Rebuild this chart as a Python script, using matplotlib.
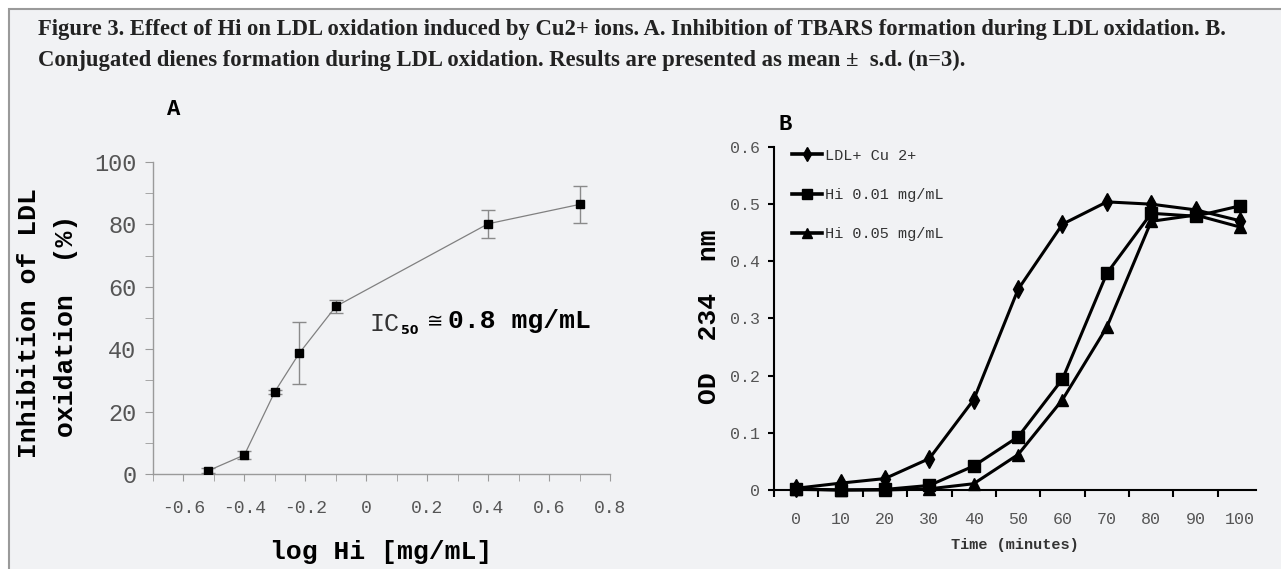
import matplotlib
matplotlib.use("Agg")
import matplotlib.pyplot as plt
import matplotlib.ticker as mticker
from matplotlib.lines import Line2D
from matplotlib.patches import Rectangle

# Figure settings
FIG_SIZE = (12.81, 5.69)
FIG_DPI = 100
BG = "#f1f2f4"
MONO = "Liberation Mono"
SERIF = "Liberation Serif"

# Panel A: inhibition of TBARS formation
log_hi = [-0.52, -0.40, -0.30, -0.22, -0.10, 0.40, 0.70]
inhibition = [1.0, 6.1, 26.4, 38.7, 53.7, 80.2, 86.4]
inhibition_sd = [0.8, 1.2, 0.6, 10.0, 2.0, 4.4, 6.0]
a_xticks = [-0.6, -0.4, -0.2, 0, 0.2, 0.4, 0.6, 0.8]
a_xticklabels = ["-0.6", "-0.4", "-0.2", "0", "0.2", "0.4", "0.6", "0.8"]

# Panel B: conjugated dienes formation
time_min = [0, 10, 20, 30, 40, 50, 60, 70, 80, 90, 100]
od_ldl_cu = [0.003, 0.012, 0.020, 0.055, 0.158, 0.351, 0.465, 0.504, 0.500, 0.490, 0.471]
od_hi_001 = [0.002, 0.000, 0.001, 0.008, 0.042, 0.093, 0.194, 0.379, 0.484, 0.479, 0.497]
od_hi_005 = [0.001, 0.000, 0.000, 0.002, 0.011, 0.062, 0.158, 0.285, 0.470, 0.481, 0.460]
b_labels = ["LDL+ Cu 2+", "Hi 0.01 mg/mL", "Hi 0.05 mg/mL"]
b_markers = ["d", "s", "^"]

title_lines = [
    "Figure 3. Effect of Hi on LDL oxidation induced by Cu2+ ions. A. Inhibition of TBARS "
    "formation during LDL oxidation. B.",
    "Conjugated dienes formation during LDL oxidation. Results are presented as mean \u00b1  s.d. (n=3).",
]


def px_x(x):
    return x / 1281


def px_y(y):
    return 1 - y / 569


def draw_panel_a(fig):
    ax = fig.add_axes([px_x(153), px_y(474), px_x(610) - px_x(153), px_y(162) - px_y(474)])
    ax.set_facecolor("none")
    ax.errorbar(log_hi, inhibition, yerr=inhibition_sd, color="#808080", lw=0.9,
                ecolor="#8a8a8a", elinewidth=1.0, capsize=5, capthick=1.0,
                marker="s", markersize=6, mfc="black", mec="black", zorder=3)
    ax.set_xlim(-0.7, 0.8)
    ax.set_ylim(0, 100)
    for side in ("top", "right"):
        ax.spines[side].set_visible(False)
    for side in ("left", "bottom"):
        ax.spines[side].set_color("#9a9a9a")
        ax.spines[side].set_linewidth(1.0)

    ax.set_xticks(a_xticks)
    ax.set_xticklabels(a_xticklabels)
    ax.xaxis.set_minor_locator(mticker.MultipleLocator(0.1))
    ax.yaxis.set_major_locator(mticker.MultipleLocator(20))
    ax.yaxis.set_minor_locator(mticker.MultipleLocator(10))
    ax.tick_params(axis="x", which="both", direction="out", length=5, color="#9a9a9a",
                   pad=14, labelsize=13, labelcolor="#555555")
    ax.tick_params(axis="y", which="both", direction="out", length=6, color="#9a9a9a",
                   pad=6, labelsize=17, labelcolor="#555555")
    for lab in ax.get_xticklabels() + ax.get_yticklabels():
        lab.set_family(MONO)

    ax.text(0.046, 1.167, "A", transform=ax.transAxes, family=MONO, weight="bold",
            fontsize=16, ha="center", va="center")

    # IC50 note, pieces chained one after another
    t1 = ax.text(0.01, 48.0, "IC", family=MONO, fontsize=18, color="#333333", va="center")
    ax.annotate("50", xy=(1, 0.25), xycoords=t1, xytext=(1, 0), textcoords="offset points",
                family="DejaVu Sans", weight="bold", fontsize=9, va="center")
    t3 = ax.annotate("\u2245", xy=(1, 0.5), xycoords=t1, xytext=(20, 2), textcoords="offset points",
                     family="DejaVu Sans", fontsize=14, va="center")
    ax.annotate("0.8 mg/mL", xy=(1, 0.5), xycoords=t3, xytext=(3, 0), textcoords="offset points",
                family=MONO, weight="bold", fontsize=19, va="center")

    ax.set_xlabel("log Hi [mg/mL]", family=MONO, weight="bold", fontsize=19, labelpad=16)
    fig.text(px_x(29), px_y(323), "Inhibition of LDL", rotation=90, family=MONO,
             weight="bold", fontsize=19, ha="center", va="center")
    fig.text(px_x(66), px_y(326), "oxidation  (%)", rotation=90, family=MONO,
             weight="bold", fontsize=19, ha="center", va="center")


def draw_panel_b(fig):
    ax = fig.add_axes([px_x(774), px_y(490), px_x(1256) - px_x(774), px_y(147) - px_y(490)])
    ax.set_facecolor("none")
    series = [od_ldl_cu, od_hi_001, od_hi_005]
    sizes = [9, 9, 9]
    handles = []
    for vals, mk, ms, lab in zip(series, b_markers, sizes, b_labels):
        ax.plot(time_min, vals, color="black", lw=2.2, marker=mk, markersize=ms,
                mfc="black", mec="black", clip_on=False, zorder=3)
        handles.append(Line2D([], [], color="black", lw=2.6, marker=mk, markersize=7,
                              mfc="black", mec="black", label=lab))

    ax.set_xlim(-5, 103.6)
    ax.set_ylim(0, 0.6)
    for side in ("top", "right"):
        ax.spines[side].set_visible(False)
    for side in ("left", "bottom"):
        ax.spines[side].set_color("black")
        ax.spines[side].set_linewidth(1.5)

    ax.set_xticks(time_min)
    ax.xaxis.set_minor_locator(mticker.FixedLocator([t - 5 for t in time_min]))
    ax.yaxis.set_major_locator(mticker.MultipleLocator(0.1))
    ax.yaxis.set_major_formatter(mticker.FuncFormatter(lambda v, pos: "0" if v == 0 else f"{v:.1f}"))
    ax.tick_params(axis="x", which="major", length=0, pad=16, labelsize=12, labelcolor="#555555")
    ax.tick_params(axis="x", which="minor", direction="out", length=5, width=1.5, color="black")
    ax.tick_params(axis="y", which="major", direction="out", length=4, width=1.5, color="black",
                   pad=6, labelsize=12, labelcolor="#555555")
    for lab in ax.get_xticklabels() + ax.get_yticklabels():
        lab.set_family(MONO)

    leg = ax.legend(handles=handles, loc="upper left", bbox_to_anchor=(0.037, 0.995),
                    frameon=False, handlelength=2.0, handletextpad=0.2, labelspacing=1.65,
                    borderaxespad=0, borderpad=0, numpoints=1,
                    prop={"family": MONO, "size": 11})
    for txt in leg.get_texts():
        txt.set_color("#333333")

    ax.text(0.01, 1.065, "B", transform=ax.transAxes, family=MONO, weight="bold",
            fontsize=16, ha="left", va="center")
    ax.set_xlabel("Time (minutes)", family=MONO, weight="bold", fontsize=11,
                  color="#333333", labelpad=8)
    fig.text(px_x(709), px_y(317), "OD  234  nm", rotation=90, family=MONO,
             weight="bold", fontsize=19, ha="center", va="center")


def main():
    fig = plt.figure(figsize=FIG_SIZE, dpi=FIG_DPI, facecolor="white")
    fig.patches.append(Rectangle((px_x(9), -0.2), 1.2, px_y(9) + 0.2, transform=fig.transFigure,
                                 facecolor=BG, edgecolor="#9a9a9a", lw=1.5, zorder=-5))
    fig.text(px_x(38), px_y(30), title_lines[0], family=SERIF, weight="bold", fontsize=16.3,
             color="#222222", va="center")
    fig.text(px_x(38), px_y(60), title_lines[1], family=SERIF, weight="bold", fontsize=16.3,
             color="#222222", va="center")

    draw_panel_a(fig)
    draw_panel_b(fig)

    fig.savefig("out.png", dpi=FIG_DPI, facecolor="white")
    plt.close()


main()
